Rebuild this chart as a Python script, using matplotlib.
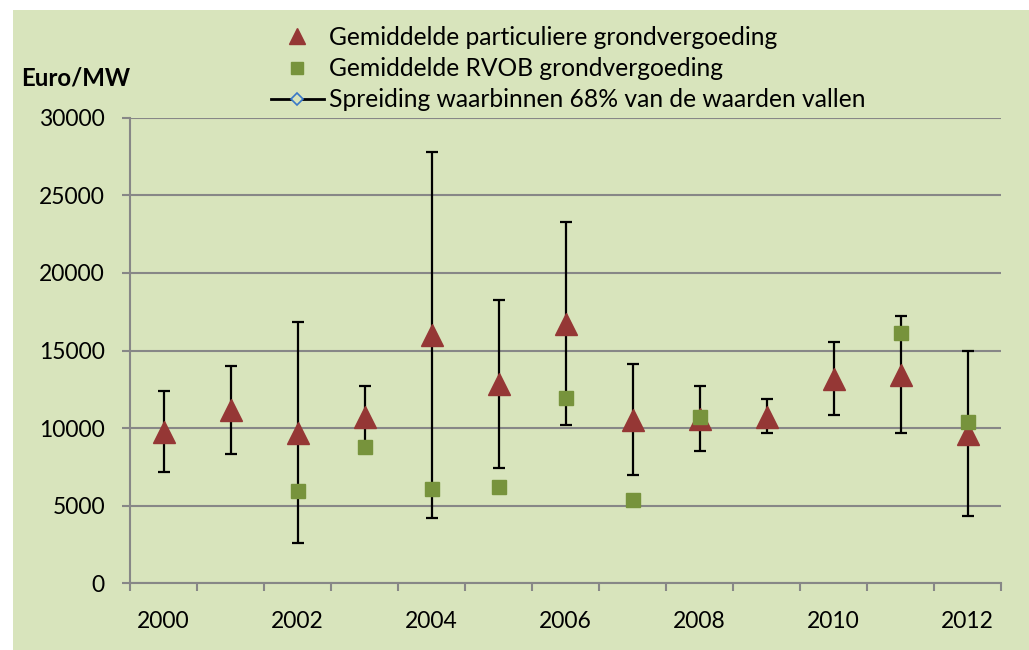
import matplotlib
matplotlib.use("Agg")
import matplotlib.pyplot as plt
from matplotlib.lines import Line2D
from matplotlib.patches import Rectangle
import numpy as np

years = [2000, 2001, 2002, 2003, 2004, 2005, 2006, 2007, 2008, 2009, 2010, 2011, 2012]
particulier = [9770, 11150, 9670, 10730, 15980, 12840, 16710, 10540, 10560, 10720, 13140, 13400, 9640]
rvob = [np.nan, np.nan, 5950, 8800, 6080, 6200, 11960, 5370, 10740, np.nan, np.nan, 16150, 10410]
spread_low = [7150, 8350, 2580, 9000, 4230, 7430, 10200, 7000, 8550, 9660, 10840, 9660, 4360]
spread_high = [12410, 14020, 16860, 12690, 27770, 18270, 23280, 14150, 12690, 11850, 15550, 17200, 14990]
yticks = [0, 5000, 10000, 15000, 20000, 25000, 30000]

legend_labels = ["Gemiddelde particuliere grondvergoeding",
                 "Gemiddelde RVOB grondvergoeding",
                 "Spreiding waarbinnen 68% van de waarden vallen"]
ylabel = "Euro/MW"

BG = "#D8E4BC"
RED = "#953735"
GREEN = "#77933C"
GRID = "#878787"
FONT = "Lato"

plt.rcParams['font.family'] = [FONT, 'DejaVu Sans']

W, H = 1029, 650
fig = plt.figure(figsize=(W / 100, H / 100), dpi=100)
fig.patch.set_facecolor("white")
fig.add_artist(Rectangle((13 / W, 0), 1 - 13 / W, 1 - 10 / H, transform=fig.transFigure,
                         facecolor=BG, edgecolor="none", zorder=-10))

ax = fig.add_axes([130 / W, 1 - 583.3 / H, (1001 - 130) / W, (583.3 - 117.7) / H])
ax.set_facecolor("none")

x = np.arange(len(years))
part = np.array(particulier, dtype=float)
lo = np.array(spread_low, dtype=float)
hi = np.array(spread_high, dtype=float)

ax.errorbar(x, part, yerr=[part - lo, hi - part], fmt='none', ecolor='black',
            elinewidth=1.6, capsize=4.5, capthick=1.6, zorder=3)
ax.plot(x, part, linestyle='none', marker='^', markersize=16.5, color=RED,
        markeredgecolor=RED, zorder=4)
ax.plot(x, rvob, linestyle='none', marker='s', markersize=9.6, color=GREEN,
        markeredgecolor=GREEN, zorder=5)

ax.set_xlim(-0.5, len(years) - 0.5)
ax.set_ylim(0, 30000)
ax.set_yticks(yticks)
ax.set_yticklabels([str(v) for v in yticks])
ax.yaxis.grid(True, color=GRID, linewidth=1.5, zorder=0)
ax.set_axisbelow(True)

ax.set_xticks(x[::2])
ax.set_xticklabels([str(y) for y in years[::2]])
ax.set_xticks(np.arange(-0.5, len(years), 1.0), minor=True)
ax.tick_params(axis='x', which='major', length=0, pad=20, labelsize=16.5)
ax.tick_params(axis='x', which='minor', length=6, width=1.5, color=GRID, direction='out')
ax.tick_params(axis='y', length=6, width=1.5, color=GRID, direction='out', pad=12, labelsize=16.5)

for s in ['top', 'right']:
    ax.spines[s].set_visible(False)
for s in ['left', 'bottom']:
    ax.spines[s].set_color(GRID)
    ax.spines[s].set_linewidth(1.5)

fig.text(21 / W, 1 - 78 / H, ylabel, fontsize=17.3, fontweight='bold', ha='left', va='center')

handles = [
    Line2D([], [], linestyle='none', marker='^', markersize=12, color=RED),
    Line2D([], [], linestyle='none', marker='s', markersize=8.5, color=GREEN),
    Line2D([], [], color='black', linewidth=2, marker='D', markersize=6,
           markerfacecolor=BG, markeredgecolor='#3A78C8', markeredgewidth=1.2),
]
fig.legend(handles, legend_labels, loc='upper left', bbox_to_anchor=(271 / W, 1 - 26 / H),
           frameon=False, fontsize=17.7, handlelength=2.15, handletextpad=0.22,
           labelspacing=0.33, borderpad=0, borderaxespad=0)

fig.savefig("out.png", dpi=100)
